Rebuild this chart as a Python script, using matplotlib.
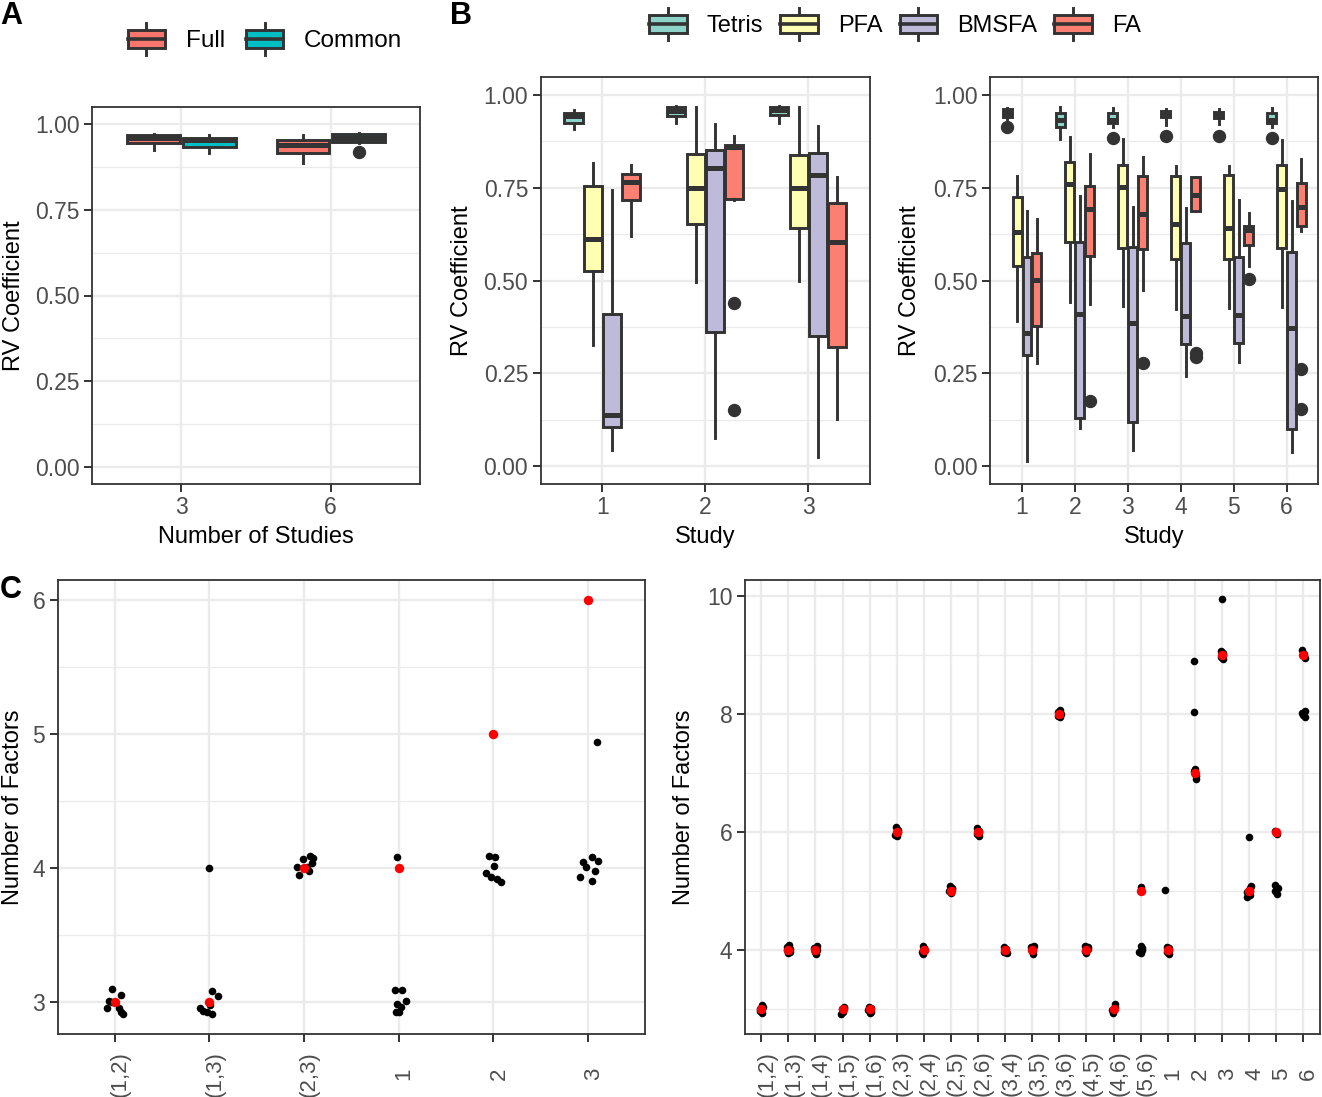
import matplotlib
matplotlib.use("Agg")
import matplotlib.pyplot as plt
from matplotlib.legend_handler import HandlerBase
from matplotlib.patches import Rectangle, Patch
from matplotlib.lines import Line2D
from matplotlib.ticker import FixedLocator
from matplotlib.transforms import ScaledTranslation

plt.rcParams['font.family'] = ['Liberation Sans', 'DejaVu Sans']

# ---- data: (whisker low, q1, median, q3, whisker high) ----
A_GROUPS = ['3', '6']
A_FULL = [(0.923, 0.944, 0.959, 0.967, 0.970), (0.884, 0.913, 0.937, 0.952, 0.967)]
A_COMMON = [(0.915, 0.931, 0.951, 0.959, 0.967), (0.944, 0.946, 0.958, 0.969, 0.972)]
A_FULL_OUT = [[], []]
A_COMMON_OUT = [[], [0.916]]

B3_STUDIES = ['1', '2', '3']
B3_TETRIS = [(0.908, 0.925, 0.944, 0.953, 0.960), (0.924, 0.944, 0.958, 0.967, 0.970),
             (0.925, 0.946, 0.959, 0.969, 0.971)]
B3_PFA = [(0.326, 0.526, 0.612, 0.755, 0.818), (0.497, 0.653, 0.750, 0.841, 0.969),
          (0.500, 0.643, 0.750, 0.839, 0.967)]
B3_BMSFA = [(0.043, 0.106, 0.139, 0.409, 0.744), (0.075, 0.361, 0.803, 0.852, 0.922),
            (0.025, 0.351, 0.786, 0.845, 0.916)]
B3_FA = [(0.621, 0.717, 0.766, 0.788, 0.811), (0.717, 0.721, 0.859, 0.865, 0.891),
         (0.128, 0.322, 0.603, 0.708, 0.778)]
B3_TETRIS_OUT = [[], [], []]
B3_PFA_OUT = [[], [], []]
B3_BMSFA_OUT = [[], [], []]
B3_FA_OUT = [[], [0.439, 0.151], []]

B6_STUDIES = ['1', '2', '3', '4', '5', '6']
B6_TETRIS = [(0.935, 0.942, 0.953, 0.962, 0.965), (0.883, 0.913, 0.932, 0.952, 0.967),
             (0.915, 0.924, 0.932, 0.951, 0.966), (0.919, 0.940, 0.949, 0.958, 0.962),
             (0.921, 0.937, 0.948, 0.955, 0.962), (0.915, 0.924, 0.932, 0.951, 0.966)]
B6_PFA = [(0.392, 0.539, 0.630, 0.726, 0.782), (0.443, 0.605, 0.760, 0.820, 0.888),
          (0.431, 0.587, 0.753, 0.813, 0.881), (0.424, 0.558, 0.652, 0.783, 0.809),
          (0.425, 0.558, 0.643, 0.786, 0.810), (0.429, 0.587, 0.748, 0.811, 0.880)]
B6_BMSFA = [(0.013, 0.300, 0.358, 0.564, 0.688), (0.103, 0.131, 0.409, 0.603, 0.729),
            (0.043, 0.119, 0.386, 0.591, 0.699), (0.243, 0.329, 0.405, 0.601, 0.696),
            (0.281, 0.332, 0.407, 0.565, 0.717), (0.039, 0.099, 0.373, 0.578, 0.714)]
B6_FA = [(0.277, 0.377, 0.501, 0.575, 0.666), (0.437, 0.567, 0.693, 0.756, 0.840),
         (0.476, 0.585, 0.679, 0.782, 0.832), (0.687, 0.687, 0.730, 0.780, 0.780),
         (0.540, 0.597, 0.636, 0.647, 0.681), (0.634, 0.648, 0.699, 0.762, 0.829)]
B6_TETRIS_OUT = [[0.913], [], [0.885], [0.889], [0.889], [0.885]]
B6_PFA_OUT = [[], [], [], [], [], []]
B6_BMSFA_OUT = [[], [], [], [], [], []]
B6_FA_OUT = [[], [0.177], [0.279], [0.306, 0.295], [0.505], [0.261, 0.153]]

# ---- panel C: true number of factors (red) and estimates (black, jittered) ----
C3_LABELS = ['(1,2)', '(1,3)', '(2,3)', '1', '2', '3']
C3_TRUE = [3, 3, 4, 4, 5, 6]
C3_EST = [[3.095, 3.05, 3.005, 2.95, 2.95, 2.92, 2.905, 3.0],
          [4.0, 3.08, 3.045, 2.95, 2.93, 2.92, 2.905, 2.975],
          [3.946, 4.003, 4.066, 4.09, 4.07, 4.033, 3.98, 4.008],
          [4.083, 3.087, 3.087, 3.005, 2.98, 2.963, 2.925, 2.92],
          [4.088, 4.083, 4.016, 3.958, 3.934, 3.914, 3.896],
          [4.94, 4.083, 4.053, 4.04, 4.008, 3.976, 3.934, 3.9]]
C3_JIT = [[-0.025, 0.063, -0.06, -0.084, 0.046, 0.063, 0.088, -0.03],
          [0.0, 0.025, 0.095, -0.098, -0.063, -0.028, 0.025, 0.007],
          [-0.05, -0.07, -0.007, 0.063, 0.098, 0.08, 0.056, 0.028],
          [-0.014, -0.042, 0.035, 0.08, -0.018, 0.028, -0.025, 0.004],
          [-0.046, 0.014, 0.004, -0.074, -0.021, 0.039, 0.084],
          [0.098, 0.042, 0.105, -0.053, -0.018, 0.07, -0.081, 0.042]]

C6_LABELS = ['(1,2)', '(1,3)', '(1,4)', '(1,5)', '(1,6)', '(2,3)', '(2,4)', '(2,5)',
             '(2,6)', '(3,4)', '(3,5)', '(3,6)', '(4,5)', '(4,6)', '(5,6)',
             '1', '2', '3', '4', '5', '6']
C6_TRUE = [3, 4, 4, 3, 3, 6, 4, 5, 6, 4, 4, 8, 4, 3, 5, 4, 7, 9, 5, 6, 9]
C6_EST = [[3.07, 3.04, 3.0, 2.96, 2.94, 3.02, 2.97],
          [4.08, 4.05, 4.0, 3.96, 3.95, 4.02],
          [4.06, 4.03, 3.96, 3.94, 4.0],
          [3.03, 3.0, 2.95, 2.92, 3.02],
          [3.04, 3.01, 2.95, 2.93, 2.98],
          [6.08, 6.03, 5.97, 5.93, 6.0, 5.95],
          [4.07, 4.03, 3.96, 3.93, 4.0],
          [5.08, 5.05, 5.0, 4.97, 5.03],
          [6.07, 6.02, 5.96, 5.94, 6.0],
          [4.05, 4.01, 3.96, 3.95, 3.97],
          [4.07, 4.05, 4.0, 3.94, 3.98],
          [8.06, 8.03, 7.97, 7.95, 8.0, 7.98],
          [4.07, 4.05, 3.98, 3.95, 4.02],
          [3.08, 3.04, 2.98, 2.93, 3.0],
          [5.07, 4.06, 4.03, 3.97, 3.95, 4.0],
          [5.02, 4.05, 4.03, 3.96, 3.94, 4.0],
          [8.9, 8.03, 7.07, 7.03, 6.95, 6.9, 7.0],
          [9.95, 9.07, 9.03, 8.97, 8.93, 9.0],
          [5.92, 5.09, 5.05, 4.98, 4.93, 4.9, 5.0],
          [6.02, 5.97, 5.1, 5.05, 5.0, 4.95],
          [9.08, 9.02, 8.94, 8.05, 8.02, 7.98, 7.95]]
C6_JIT = [[0.02, 0.05, -0.06, -0.04, 0.03, 0.0, -0.02],
          [0.03, -0.04, -0.06, 0.05, -0.02, 0.06],
          [0.04, -0.05, -0.03, 0.02, 0.06],
          [0.05, -0.03, 0.02, -0.06, 0.07],
          [-0.03, 0.05, 0.06, 0.03, -0.05],
          [-0.02, 0.05, -0.04, 0.02, 0.06, -0.05],
          [-0.03, 0.02, -0.05, -0.04, 0.03],
          [-0.05, 0.03, -0.06, 0.0, 0.05],
          [-0.04, 0.04, -0.05, 0.02, 0.05],
          [-0.05, 0.02, -0.04, 0.05, 0.0],
          [0.05, -0.05, 0.03, 0.04, -0.02],
          [0.03, -0.05, -0.06, 0.04, 0.06, 0.0],
          [-0.04, 0.05, -0.06, 0.0, 0.06],
          [0.05, 0.07, -0.05, -0.03, 0.03],
          [0.03, 0.0, 0.05, -0.05, 0.02, 0.04],
          [-0.1, -0.03, 0.05, -0.02, 0.06, 0.03],
          [-0.02, -0.02, 0.02, -0.03, 0.03, 0.05, 0.0],
          [0.0, -0.02, 0.05, -0.05, 0.04, 0.03],
          [0.0, 0.08, 0.03, -0.07, 0.05, -0.08, 0.02],
          [-0.05, 0.05, -0.03, 0.06, -0.04, 0.05],
          [-0.05, 0.04, 0.06, 0.06, -0.06, -0.02, 0.06]]

COL_A = {'Full': '#F8766D', 'Common': '#00BFC4'}
COL_B = {'Tetris': '#8DD3C7', 'PFA': '#FFFFB3', 'BMSFA': '#BEBADA', 'FA': '#FB8072'}
EDGE = '#333333'
TICK_FS = 16.5
TITLE_FS = 17

W, H = 1322, 1097
fig = plt.figure(figsize=(W / 100, H / 100), dpi=100)


def px_rect(l, t, r, b):
    return [l / W, 1 - b / H, (r - l) / W, (b - t) / H]


def theme_bw(ax, minor_y):
    ax.set_facecolor('white')
    for s in ax.spines.values():
        s.set_color(EDGE)
        s.set_linewidth(1.3)
    ax.yaxis.set_minor_locator(FixedLocator(minor_y))
    ax.grid(which='major', color='#EBEBEB', lw=1.7)
    ax.grid(which='minor', axis='y', color='#EBEBEB', lw=0.9)
    ax.set_axisbelow(True)
    ax.tick_params(which='major', length=5.5, width=1.4, color=EDGE,
                   labelcolor='#4D4D4D', labelsize=TICK_FS, pad=3.5)
    ax.tick_params(which='minor', length=0)


def draw_boxes(ax, series, outs, colors, n, width, step):
    k = len(series)
    for g, (stats5, out, col) in enumerate(zip(series, outs, colors)):
        off = (g - (k - 1) / 2) * step
        stats = [dict(whislo=s[0], q1=s[1], med=s[2], q3=s[3], whishi=s[4], fliers=o)
                 for s, o in zip(stats5, out)]
        ax.bxp(stats, positions=[i + off for i in range(n)], widths=width,
               patch_artist=True, showcaps=False, manage_ticks=False,
               boxprops=dict(facecolor=col, edgecolor=EDGE, lw=2.1),
               whiskerprops=dict(color=EDGE, lw=2.1),
               medianprops=dict(color=EDGE, lw=3.6, solid_capstyle='butt'),
               flierprops=dict(marker='o', markerfacecolor=EDGE, markeredgecolor=EDGE,
                               markersize=8.6))


def rv_axis(ax, labels, xlabel):
    n = len(labels)
    ax.set_xlim(-0.6, n - 0.4)
    ax.set_ylim(-0.048, 1.048)
    ax.set_xticks(range(n))
    ax.set_xticklabels(labels)
    ax.set_yticks([0, 0.25, 0.5, 0.75, 1.0])
    ax.set_yticklabels(['0.00', '0.25', '0.50', '0.75', '1.00'])
    ax.set_ylabel('RV Coefficient', fontsize=TITLE_FS)
    ax.set_xlabel(xlabel, fontsize=TITLE_FS)


class BoxKey(HandlerBase):
    def create_artists(self, legend, orig_handle, xdescent, ydescent, width, height,
                       fontsize, trans):
        x0, y0 = -xdescent, -ydescent
        xm = x0 + width / 2
        w1 = Line2D([xm, xm], [y0, y0 + 0.2 * height], color=EDGE, lw=2.1, transform=trans)
        w2 = Line2D([xm, xm], [y0 + 0.8 * height, y0 + height], color=EDGE, lw=2.1,
                    transform=trans)
        box = Rectangle((x0, y0 + 0.2 * height), width, 0.6 * height,
                        facecolor=orig_handle.get_facecolor(), edgecolor=EDGE, lw=2.1,
                        transform=trans)
        med = Line2D([x0, x0 + width], [y0 + 0.5 * height] * 2, color=EDGE, lw=2.6,
                     transform=trans)
        return [w1, w2, box, med]


# ---- Panel A ----
axA = fig.add_axes(px_rect(92, 107, 420, 484))
theme_bw(axA, [0.125, 0.375, 0.625, 0.875])
draw_boxes(axA, [A_FULL, A_COMMON], [A_FULL_OUT, A_COMMON_OUT],
           [COL_A['Full'], COL_A['Common']], len(A_GROUPS), 0.35, 0.375)
rv_axis(axA, A_GROUPS, 'Number of Studies')

# ---- Panel B ----
axB1 = fig.add_axes(px_rect(540.7, 77.3, 870, 484))
theme_bw(axB1, [0.125, 0.375, 0.625, 0.875])
draw_boxes(axB1, [B3_TETRIS, B3_PFA, B3_BMSFA, B3_FA],
           [B3_TETRIS_OUT, B3_PFA_OUT, B3_BMSFA_OUT, B3_FA_OUT],
           list(COL_B.values()), len(B3_STUDIES), 0.175, 0.1875)
rv_axis(axB1, B3_STUDIES, 'Study')

axB2 = fig.add_axes(px_rect(990.3, 77.3, 1318.3, 484))
theme_bw(axB2, [0.125, 0.375, 0.625, 0.875])
draw_boxes(axB2, [B6_TETRIS, B6_PFA, B6_BMSFA, B6_FA],
           [B6_TETRIS_OUT, B6_PFA_OUT, B6_BMSFA_OUT, B6_FA_OUT],
           list(COL_B.values()), len(B6_STUDIES), 0.17, 0.1875)
rv_axis(axB2, B6_STUDIES, 'Study')

for ax, fx, hpx in [(axA, -0.238, 377), (axB1, -0.24, 406.7), (axB2, -0.246, 406.7)]:
    ax.yaxis.label.set_verticalalignment('center')
    ax.yaxis.set_label_coords(fx, 0.5)
    ax.xaxis.label.set_verticalalignment('center')
    ax.xaxis.set_label_coords(0.5, -53 / hpx)


# ---- Panel C ----
def factor_axis(ax, labels, true, est, jit, ylim, yticks, minor):
    theme_bw(ax, minor)
    n = len(labels)
    for i in range(n):
        ax.scatter([i + d for d in jit[i]], est[i], s=30, color='black', lw=0, zorder=3)
    ax.scatter(range(n), true, s=46, color='#FF0000', lw=0, zorder=4)
    ax.set_xlim(-0.6, n - 0.4)
    ax.set_ylim(*ylim)
    ax.set_yticks(yticks)
    ax.set_xticks(range(n))
    ax.tick_params(axis='x', pad=23)
    ax.set_xticklabels(labels, rotation=90, ha='center', va='center', fontsize=16)
    shift = ScaledTranslation(5.5 / 100, 0, fig.dpi_scale_trans)
    for lab in ax.get_xticklabels():
        lab.set_transform(lab.get_transform() + shift)
    ax.set_ylabel('Number of Factors', fontsize=TITLE_FS)
    ax.yaxis.label.set_verticalalignment('center')


axC1 = fig.add_axes(px_rect(57.7, 580, 645, 1034.3))
factor_axis(axC1, C3_LABELS, C3_TRUE, C3_EST, C3_JIT, (2.757, 6.149), [3, 4, 5, 6],
            [3.5, 4.5, 5.5])
axC1.yaxis.set_label_coords((13 - 57.7) / 587.3, 0.5)

axC2 = fig.add_axes(px_rect(745, 580, 1319.5, 1034))
factor_axis(axC2, C6_LABELS, C6_TRUE, C6_EST, C6_JIT, (2.576, 10.27), [4, 6, 8, 10],
            [3, 5, 7, 9])
axC2.yaxis.set_label_coords((684 - 745) / 574.5, 0.5)

# ---- legends ----
hA = [Patch(facecolor=COL_A[k]) for k in COL_A]
fig.legend(hA, list(COL_A.keys()), loc='center', bbox_to_anchor=(265 / W, 1 - 39 / H),
           ncol=2, frameon=False, fontsize=17.5, handlelength=1.55, handleheight=1.6,
           handletextpad=0.85, columnspacing=0.85, borderpad=0,
           handler_map={Patch: BoxKey()})
hB = [Patch(facecolor=COL_B[k]) for k in COL_B]
fig.legend(hB, list(COL_B.keys()), loc='center', bbox_to_anchor=(895 / W, 1 - 24 / H),
           ncol=4, frameon=False, fontsize=17, handlelength=1.6, handleheight=1.65,
           handletextpad=0.85, columnspacing=0.72, borderpad=0,
           handler_map={Patch: BoxKey()})

# ---- panel tags ----
fig.text(0 / W, 1 - 1 / H, 'A', fontsize=22, weight='bold', va='top', ha='left')
fig.text(450 / W, 1 - 1 / H, 'B', fontsize=22, weight='bold', va='top', ha='left')
fig.text(0 / W, 1 - 575 / H, 'C', fontsize=22, weight='bold', va='top', ha='left')

fig.savefig('out.png', dpi=100, facecolor='white')
